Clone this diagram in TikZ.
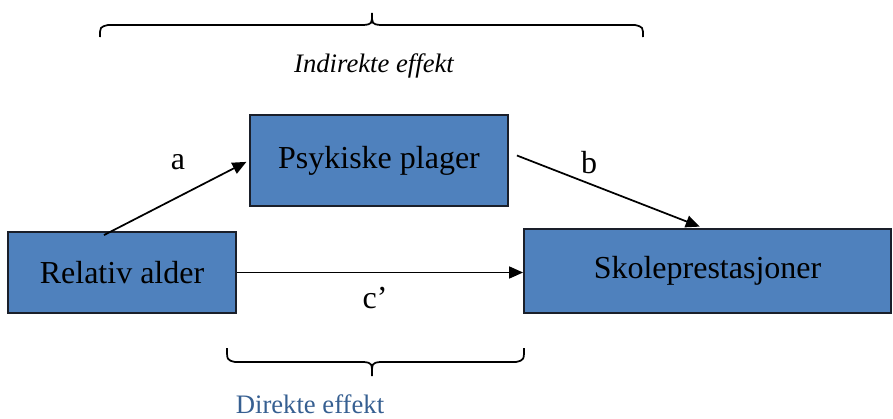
\documentclass[tikz,border=0pt]{standalone}
\usepackage{fontspec}
\setmainfont{Liberation Serif}
\usetikzlibrary{arrows.meta,calc}
\definecolor{boxblue}{HTML}{4F81BD}
\definecolor{boxline}{HTML}{1A1F2A}
\definecolor{direktblue}{HTML}{365F91}
\tikzset{
  box/.style={draw=boxline, fill=boxblue, line width=1.4pt, inner sep=0pt,
    font=\fontsize{24}{28}\selectfont},
  conn/.style={line width=1.3pt, -{Triangle[length=10.5pt,width=9pt]}},
  lbl/.style={font=\fontsize{24}{28}\selectfont, inner sep=0pt},
  brace/.style={line width=1.3pt},
}
\begin{document}
\begin{tikzpicture}[x=0.75pt,y=-0.75pt]
\useasboundingbox (0,0) rectangle (893,418);
\node[box, minimum width=171pt, minimum height=60.75pt] (rel) at (122,272.5) {Relativ alder};
\node[box, minimum width=193.5pt, minimum height=68.25pt] (psy) at (379,160.5) {Psykiske plager};
\node[box, minimum width=275.25pt, minimum height=63pt] (sko) at (707.5,271) {Skoleprestasjoner};

\draw[conn, shorten >=2.25pt] ($(rel.north)+(-18,4)$) -- (psy.west);
\draw[conn, shorten >=3pt] ($(psy.east)+(8,-5)$) -- ($(sko.north)+(-4,0)$);
\draw[conn] (rel.east) -- (rel.east -| sko.west);

\node[lbl] (la) at (178,162) {a};
\node[lbl] (lb) at (589,163) {b};
\node[lbl] (lc) at (375,298) {c’};

% top brace
\draw[brace] (100,37) .. controls (100,27) .. (108,25) -- (364,25)
  .. controls (372,24) .. (372,13) .. controls (372,24) .. (380,25)
  -- (635,25) .. controls (643,27) .. (643,37);
\node[font=\fontsize{20}{24}\selectfont\itshape, inner sep=0pt] (ind) at (374,66) {Indirekte effekt};

% bottom brace
\draw[brace] (227,348) .. controls (227,360) .. (235,362) -- (364,362)
  .. controls (372,363) .. (372,376) .. controls (372,363) .. (380,362)
  -- (516,362) .. controls (524,360) .. (524,348);
\node[font=\fontsize{20}{24}\selectfont, text=direktblue, inner sep=0pt] (dir) at (310,404) {Direkte effekt};
\end{tikzpicture}
\end{document}
